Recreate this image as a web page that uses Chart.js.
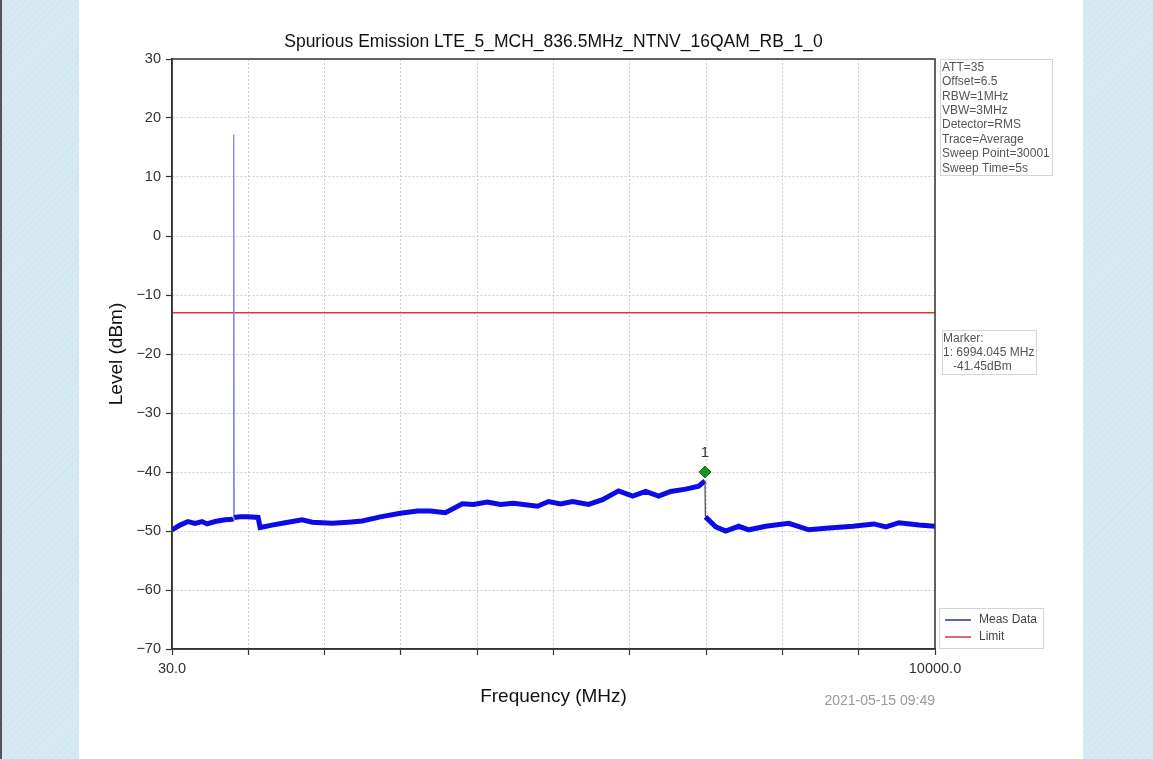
<!DOCTYPE html>
<html>
<head>
<meta charset="utf-8">
<title>Spurious Emission</title>
<script src="https://cdn.jsdelivr.net/npm/chart.js"></script>
<style>
  html, body { margin: 0; padding: 0; }
  body { width: 1153px; height: 759px; position: relative; overflow: hidden;
         background: repeating-linear-gradient(135deg, #d7eaf2 0px, #d7eaf2 3px, #cfe4ee 4px, #d7eaf2 5px); }
  #edge { position: absolute; left: 0; top: 0; width: 2px; height: 759px; background: #555; }
  #panel { position: absolute; left: 79px; top: 0; width: 1004px; height: 759px; background: #fff; }
  #chart { position: absolute; left: 0; top: 0; }
</style>
</head>
<body>
<div id="edge"></div>
<div id="panel"></div>
<canvas id="chart" width="1153" height="759"></canvas>
<script>
const freqMHz = [30, 135, 239, 331, 423, 488, 593, 723, 815, 830, 836.5, 843, 920, 1024, 1155,
  1181, 1338, 1508, 1731, 1862, 2123, 2333, 2516, 2751, 3013, 3236, 3406, 3602, 3824, 3968,
  4151, 4322, 4492, 4806, 4950, 5107, 5264, 5473, 5656, 5865, 6049, 6219, 6389, 6546, 6742,
  6912, 6994, 7000, 7135, 7265, 7435, 7566, 7789, 8090, 8351, 8613, 8927, 9202, 9359, 9529,
  9791, 10000];
const levelDbm = [-49.8, -49.0, -48.4, -48.7, -48.4, -48.8, -48.4, -48.1, -48.0, -47.9, 17.2, -47.7, -47.6, -47.6, -47.7,
  -49.4, -49.0, -48.6, -48.1, -48.5, -48.7, -48.5, -48.3, -47.6, -47.0, -46.6, -46.6, -46.9, -45.4, -45.5,
  -45.1, -45.5, -45.3, -45.8, -45.0, -45.4, -45.0, -45.5, -44.7, -43.2, -44.1, -43.3, -44.1, -43.3, -42.9,
  -42.4, -41.5, -47.6, -49.3, -50.0, -49.2, -49.8, -49.2, -48.7, -49.8, -49.5, -49.2, -48.8, -49.3, -48.6,
  -49.0, -49.2];

const limitFreq = [30, 10000];
const limitDbm = [-13, -13];

const markerFreq = [6994.045];
const markerLevel = [-40];

const xTickValues = [30, 1027, 2024, 3021, 4018, 5015, 6012, 7009, 8006, 9003, 10000];

const titleText = 'Spurious Emission LTE_5_MCH_836.5MHz_NTNV_16QAM_RB_1_0';
const infoLines = ['ATT=35', 'Offset=6.5', 'RBW=1MHz', 'VBW=3MHz', 'Detector=RMS',
  'Trace=Average', 'Sweep Point=30001', 'Sweep Time=5s'];
const markerLines = ['Marker:', '1: 6994.045 MHz', '   -41.45dBm'];
const stamp = '2021-05-15 09:49';

const FONT = '"Liberation Sans", Arial, sans-serif';
const traceColor = '#0b0be8';

const toPoints = (xs, ys) => xs.map((v, i) => ({ x: v, y: ys[i] }));
const bigStep = c => Math.abs(c.p1.parsed.y - c.p0.parsed.y) > 4;

const decor = {
  id: 'decor',
  afterDraw(chart) {
    const { ctx, chartArea: a, scales: { x, y } } = chart;
    ctx.save();
    // plot frame
    ctx.strokeStyle = '#333';
    ctx.lineWidth = 1.5;
    ctx.strokeRect(a.left, a.top, a.right - a.left, a.bottom - a.top);

    ctx.fillStyle = '#111';
    ctx.textAlign = 'center';
    ctx.textBaseline = 'middle';
    ctx.font = '17.5px ' + FONT;
    ctx.fillText(titleText, (a.left + a.right) / 2, 42);
    ctx.font = '19px ' + FONT;
    ctx.fillText('Frequency (MHz)', (a.left + a.right) / 2, 697);
    ctx.save();
    ctx.translate(117, (a.top + a.bottom) / 2);
    ctx.rotate(-Math.PI / 2);
    ctx.fillText('Level (dBm)', 0, 0);
    ctx.restore();

    ctx.font = '14px ' + FONT;
    ctx.fillStyle = '#999';
    ctx.textAlign = 'right';
    ctx.fillText(stamp, a.right, 701);

    // marker number
    ctx.font = '15px ' + FONT;
    ctx.fillStyle = '#333';
    ctx.textAlign = 'center';
    ctx.fillText('1', x.getPixelForValue(markerFreq[0]), y.getPixelForValue(markerLevel[0]) - 19);

    // side boxes
    ctx.lineWidth = 1;
    ctx.strokeStyle = '#d4d4d4';
    ctx.textAlign = 'left';
    ctx.fillStyle = '#fff';
    ctx.fillRect(940.5, 59.5, 112, 116);
    ctx.strokeRect(940.5, 59.5, 112, 116);
    ctx.fillStyle = '#555';
    ctx.font = '12px ' + FONT;
    infoLines.forEach((t, i) => ctx.fillText(t, 942, 67.5 + i * 14.4));

    ctx.fillStyle = '#fff';
    ctx.fillRect(942.5, 330.5, 94, 44);
    ctx.strokeRect(942.5, 330.5, 94, 44);
    ctx.fillStyle = '#555';
    markerLines.forEach((t, i) => ctx.fillText(t, 943, 339 + i * 14));

    ctx.fillStyle = '#fff';
    ctx.fillRect(939.5, 608.5, 104, 40);
    ctx.strokeRect(939.5, 608.5, 104, 40);
    ctx.lineWidth = 1.5;
    ctx.strokeStyle = '#2a2ab0';
    ctx.beginPath(); ctx.moveTo(945, 620); ctx.lineTo(971, 620); ctx.stroke();
    ctx.strokeStyle = '#d03a3a';
    ctx.beginPath(); ctx.moveTo(945, 637); ctx.lineTo(971, 637); ctx.stroke();
    ctx.fillStyle = '#444';
    ctx.font = '12px ' + FONT;
    ctx.fillText('Meas Data', 979, 620);
    ctx.fillText('Limit', 979, 637);
    ctx.restore();
  }
};

const ctx = document.getElementById('chart').getContext('2d');
const myChart = new Chart(ctx, {
  type: 'line',
  data: {
    datasets: [{
      label: 'Meas Data',
      data: toPoints(freqMHz, levelDbm),
      borderColor: traceColor,
      borderWidth: 5,
      pointRadius: 0,
      tension: 0,
      segment: {
        borderWidth: c => bigStep(c) ? 1.3 : 5,
        borderColor: c => bigStep(c)
          ? ((c.p0.parsed.y > 0 || c.p1.parsed.y > 0) ? '#8282e6' : '#555')
          : traceColor
      }
    }, {
      label: 'Limit',
      data: toPoints(limitFreq, limitDbm),
      borderColor: '#e03434',
      borderWidth: 1.5,
      pointRadius: 0
    }, {
      label: 'Marker',
      data: toPoints(markerFreq, markerLevel),
      showLine: false,
      pointStyle: 'rectRot',
      pointRadius: 6,
      pointBackgroundColor: '#1f8f1f',
      pointBorderColor: '#177017',
      pointBorderWidth: 1
    }]
  },
  options: {
    responsive: false,
    animation: false,
    events: [],
    layout: { padding: { left: 0, right: 218, top: 59, bottom: 80 } },
    plugins: { legend: { display: false }, title: { display: false }, tooltip: { enabled: false } },
    scales: {
      x: {
        type: 'linear',
        min: 30,
        max: 10000,
        afterFit: s => { s.height = 30; },
        afterBuildTicks: s => { s.ticks = xTickValues.map(v => ({ value: v })); },
        ticks: {
          autoSkip: false,
          maxRotation: 0,
          padding: 5,
          color: '#333',
          font: { family: FONT, size: 14.5 },
          callback: (v, i, t) => (i === 0 || i === t.length - 1) ? v.toFixed(1) : ''
        },
        grid: { color: '#cdcdcd', tickColor: '#333', tickLength: 6, tickWidth: 1.2 },
        border: { color: '#333', width: 1.5, dash: [2, 2] }
      },
      y: {
        min: -70,
        max: 30,
        afterFit: s => { s.width = 172; },
        ticks: {
          stepSize: 10,
          padding: 5,
          color: '#333',
          font: { family: FONT, size: 14.5 },
          callback: v => String(v).replace('-', '\u2212')
        },
        grid: { color: '#cdcdcd', tickColor: '#333', tickLength: 6, tickWidth: 1.2 },
        border: { color: '#333', width: 1.5, dash: [2, 2] }
      }
    }
  },
  plugins: [decor]
});
</script>
</body>
</html>
